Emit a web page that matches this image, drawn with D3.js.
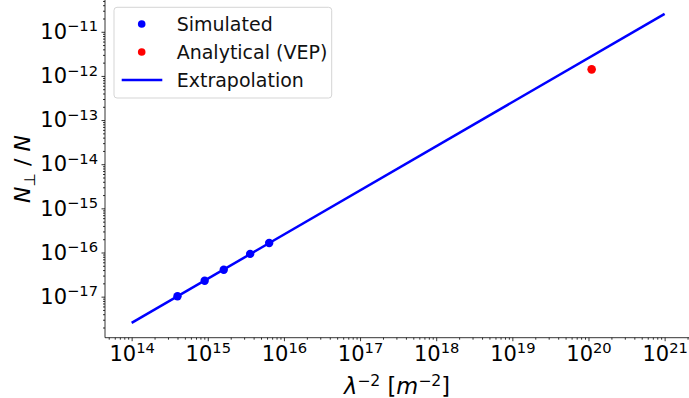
<!DOCTYPE html>
<html>
  <head>
    <meta charset="utf-8">
    <script src="https://cdn.jsdelivr.net/npm/d3@7"></script>
    <style>
      body { margin: 0; background: #fff; }
      svg { font-family: "DejaVu Sans", sans-serif; }
      .domain { stroke: #000; stroke-width: 0.8; }
      .tick line { stroke: #000; stroke-width: 0.8; }
    </style>
  </head>
  <body>
    <svg id="chart" width="689" height="398"></svg>
    <script>
      // simulated points
      const simX = [4.0e14, 9.1e14, 1.62e15, 3.6e15, 6.4e15];
      const simY = [1.02e-17, 2.3e-17, 4.08e-17, 9.3e-17, 1.64e-16];
      // analytical (VEP) point
      const vepX = [1.1e20];
      const vepY = [1.41e-12];
      // extrapolation line end points
      const extrapX = [1e14, 1e21];
      const extrapY = [2.55e-18, 2.55e-11];
      const xTickExp = [14, 15, 16, 17, 18, 19, 20, 21];
      const yTickExp = [-17, -16, -15, -14, -13, -12, -11];
      const legendNames = ['Simulated', 'Analytical (VEP)', 'Extrapolation'];

      (() => {
      const svg = d3.select('#chart');
      const pLeft = 105, pRight = 689, pTop = 0, pBottom = 337.7;

      const x = d3.scaleLog()
        .domain([Math.pow(10, 13.65), Math.pow(10, 21.32)])
        .range([pLeft, pRight]);
      const y = d3.scaleLog()
        .domain([Math.pow(10, -17.93), Math.pow(10, -10.28)])
        .range([pBottom, pTop]);

      const minors = (lo, hi) => {
        const out = [];
        for (let e = lo; e <= hi; e++)
          for (let m = 2; m <= 9; m++) out.push(m * Math.pow(10, e));
        return out;
      };

      const supLabel = (sel, exp) => {
        sel.text(null)
          .attr('font-size', 21)
          .attr('fill', '#000');
        sel.append('tspan').text('10');
        sel.append('tspan')
          .attr('font-size', 14.7)
          .attr('dy', -7.6)
          .text(String(exp).replace('-', '\u2212'));
      };

      // x axis
      const xMinorG = svg.append('g')
        .attr('transform', `translate(0,${pBottom})`)
        .call(d3.axisBottom(x)
          .tickValues(minors(13, 21).filter(v => v > x.domain()[0] && v < x.domain()[1]))
          .tickSize(2).tickFormat(''));
      xMinorG.select('.domain').remove();

      const xAxisG = svg.append('g')
        .attr('transform', `translate(0,${pBottom})`)
        .call(d3.axisBottom(x)
          .tickValues(xTickExp.map(e => Math.pow(10, e)))
          .tickSize(3.5)
          .tickSizeOuter(0));
      xAxisG.attr('font-family', null);
      xAxisG.select('.domain').attr('d', `M${pLeft},0H${pRight}`);
      xAxisG.selectAll('.tick text')
        .attr('y', 23).attr('dy', 0)
        .each(function(d, i) { supLabel(d3.select(this), xTickExp[i]); });

      // y axis
      const yMinorG = svg.append('g')
        .attr('transform', `translate(${pLeft},0)`)
        .call(d3.axisLeft(y)
          .tickValues(minors(-18, -11).filter(v => v > y.domain()[0] && v < y.domain()[1]))
          .tickSize(2).tickFormat(''));
      yMinorG.select('.domain').remove();

      const yAxisG = svg.append('g')
        .attr('transform', `translate(${pLeft},0)`)
        .call(d3.axisLeft(y)
          .tickValues(yTickExp.map(e => Math.pow(10, e)))
          .tickSize(3.5)
          .tickSizeOuter(0));
      yAxisG.attr('font-family', null);
      yAxisG.select('.domain').attr('d', `M0,${pBottom}V${pTop}`);
      yAxisG.selectAll('.tick text')
        .attr('x', -7).attr('dy', 6.7)
        .each(function(d, i) { supLabel(d3.select(this), yTickExp[i]); });

      // axis labels
      const xl = svg.append('text')
        .attr('x', (pLeft + pRight) / 2)
        .attr('y', 394)
        .attr('text-anchor', 'middle')
        .attr('font-size', 22.5);
      xl.append('tspan').attr('font-style', 'italic').text('\u03bb');
      xl.append('tspan').attr('font-size', 15.7).attr('dy', -8.2).text('\u22122');
      xl.append('tspan').attr('dy', 8.2).text(' [');
      xl.append('tspan').attr('font-style', 'italic').text('m');
      xl.append('tspan').attr('font-size', 15.7).attr('dy', -8.2).text('\u22122');
      xl.append('tspan').attr('dy', 8.2).text(']');

      const yl = svg.append('text')
        .attr('transform', 'translate(30,169) rotate(-90)')
        .attr('text-anchor', 'middle')
        .attr('font-size', 22);
      yl.append('tspan').attr('font-style', 'italic').text('N');
      yl.append('tspan').attr('font-size', 15.4).attr('dy', 4.5).text('\u22a5');
      yl.append('tspan').attr('dy', -4.5).text(' / ');
      yl.append('tspan').attr('font-style', 'italic').text('N');

      // extrapolation line
      const lineData = extrapX.map((v, i) => [v, extrapY[i]]);
      svg.append('path')
        .datum(lineData)
        .attr('fill', 'none')
        .attr('stroke', '#0000ff')
        .attr('stroke-width', 2.5)
        .attr('d', d3.line().x(d => x(d[0])).y(d => y(d[1])));

      // simulated points
      svg.selectAll('circle.sim')
        .data(simX.map((v, i) => [v, simY[i]]))
        .enter().append('circle')
          .attr('class', 'sim')
          .attr('cx', d => x(d[0]))
          .attr('cy', d => y(d[1]))
          .attr('r', 4.2)
          .attr('fill', '#0000ff');

      // analytical point
      svg.selectAll('circle.vep')
        .data(vepX.map((v, i) => [v, vepY[i]]))
        .enter().append('circle')
          .attr('class', 'vep')
          .attr('cx', d => x(d[0]))
          .attr('cy', d => y(d[1]))
          .attr('r', 4.3)
          .attr('fill', '#ff0000');

      // legend
      const lg = svg.append('g');
      lg.append('rect')
        .attr('x', 114).attr('y', 7.3)
        .attr('width', 217.7).attr('height', 90.7)
        .attr('rx', 3)
        .attr('fill', '#fff').attr('fill-opacity', 0.8)
        .attr('stroke', '#d0d0d0').attr('stroke-width', 0.9);
      const legendColors = ['#0000ff', '#ff0000', '#0000ff'];
      legendNames.forEach((name, i) => {
        const cy = 24 + i * 28;
        if (i < 2) {
          lg.append('circle').attr('cx', 141.7).attr('cy', cy).attr('r', 3.8).attr('fill', legendColors[i]);
        } else {
          lg.append('line').attr('x1', 121.7).attr('x2', 162.3).attr('y1', cy).attr('y2', cy)
            .attr('stroke', legendColors[i]).attr('stroke-width', 2.5);
        }
        lg.append('text')
          .attr('x', 176.7).attr('y', cy + 6.7)
          .attr('font-size', 19)
          .attr('fill', '#111')
          .text(name);
      });
      })();
    </script>
  </body>
</html>
